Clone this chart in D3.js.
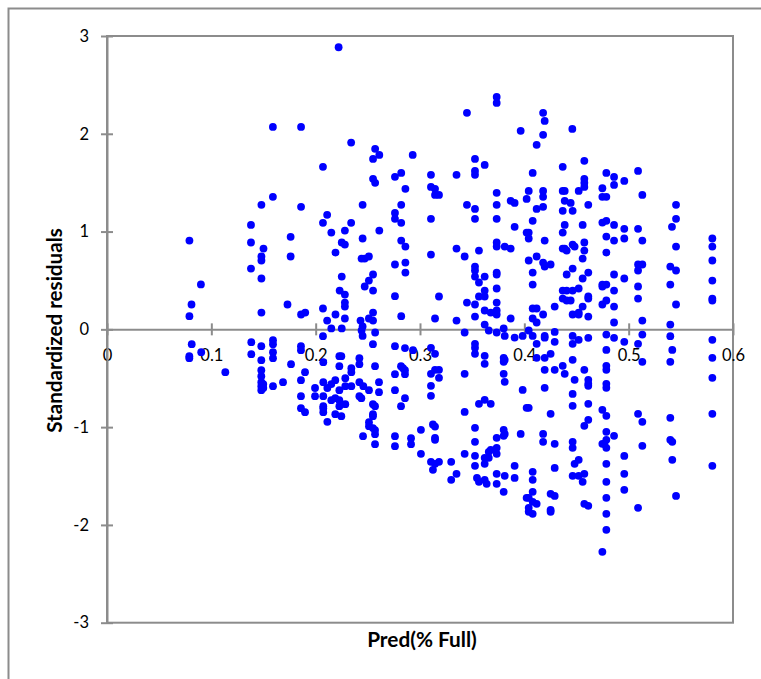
<!DOCTYPE html>
<html>
<head>
<meta charset="utf-8">
<script src="https://cdn.jsdelivr.net/npm/d3@7"></script>
<style>
  html, body { margin: 0; padding: 0; background: #fff; }
  svg { display: block; }
  text { font-family: Lato, "Open Sans", sans-serif; fill: #000; }
</style>
</head>
<body>
<div id="chart"></div>
<script>
// Pred(% Full) and standardized residual of each point, line for line
const predFull = [
  .222,.159,.186,.234,.257,.261,.255,.293,.207,.282,
  .276,.255,.257,.286,.159,.148,.186,.245,.282,.276,
  .276,.211,.207,.234,.282,.138,.215,.228,.261,.176,
  .079,.138,.245,.282,.286,.225,.228,.150,.219,.148,
  .148,.176,.244,.247,.251,.138,.276,.286,.286,.148,
  .225,.255,.251,.247,.090,.223,.228,.255,.276,.228,
  .228,.081,.173,.207,.148,.186,.190,.219,.079,.228,
  .255,.282,.211,.243,.251,.255,.215,.225,.245,.244,
  .257,.245,.207,
  .3735,.3735,.345,.418,.4195,.446,.3965,.418,.4118,.3527,
  .362,.4575,.4368,.3527,.3527,.3105,.335,.408,.4786,.509,
  .486,.4958,.4575,.4575,.4575,.486,.3105,.3144,.3144,.3182,
  .4748,.4042,.418,.418,.4368,.4387,.4521,.3735,.5131,.4748,
  .4786,.4022,.3869,.3907,.4387,.4444,.345,.3735,.4613,.5454,
  .3527,.4118,.418,.4368,.4463,.3105,.3527,.3735,.408,.5454,
  .4748,.4786,.4387,.4559,.486,.3907,.5415,.4958,.509,.4022,
  .4042,.4368,.4042,.4786,.5802,.4958,.4195,.486,.5131,.3735,
  .4575,.4463,.4482,.3735,.3812,.3869,.335,.5802,.5454,.4368,
  .4387,.4406,.3565,.4575,.4786,.3105,.3428,.4118,.4559,.4042,
  .418,.5802,.4252,.4195,.3527,.509,.5131,.509,.5399,.5454,
  .3527,.4463,.3527,.3735,.3735,.408,.4613,.362,.4406,.486,
  .3565,.4559,.4958,.5802,.408,.4748,.4786,.4748,.509,.5399,
  .3735,.362,.4368,.4406,.4463,.4521,.486,.3182,.3565,.362,
  .4613,.4613,.4368,.4406,.4444,.509,.5802,.5802,.345,.3527,
  .3735,.4786,.4748,.4291,.4559,.486,.5454,.408,.4118,.362,
  .3678,.3735,.3735,.4463,.4521,.4521,.418,.3527,.3144,.3869,
  .408,.4118,.4613,.335,.5131,.486,.5399,.362,.3802,.3659,
  .4042,.3735,.3428,.4291,.3812,.3907,.3984,.408,.4195,.4195,
  .4463,.4786,.4613,.5131,.5399,.486,
  .4521,.5802,.4118,.4291,.4463,.4958,.509,.3105,.3144,.3527,
  .3527,.3527,.362,.362,.4786,.5418,.5131,.5399,.5802,.4252,
  .4195,.4118,.3802,.3802,.3812,.4463,.4786,.4786,.4195,.4291,
  .4368,.4387,.4575,.3144,.3182,.3105,.3182,.3428,.3802,.3812,
  .4482,.4613,.4613,.4613,.4786,.4786,.5802,.3105,.3105,.3984,
  .4195,.4463,.362,.3565,.3678,.4463,.4613,.4022,.4042,.3428,
  .4252,.4748,.4786,.509,.5131,.5399,.5802,.4613,.4575,.3124,
  .3144,.3009,.3527,.3802,.3812,.3802,.3735,.3965,.418,.4786,
  .486,.3144,.3144,.3527,.418,.4291,.4463,.4463,.4786,.4748,
  .4767,.4786,.5131,.5399,.5418,.3735,.3678,.3659,.3735,.3428,
  .3009,.3527,.362,.3659,.4958,.3105,.3144,.3182,.3299,.5418,
  .4521,.4482,.362,.3527,.3907,.4291,.4786,.5802,.3124,.408,
  .335,.3735,.3812,.4958,.4463,.4521,.4575,.3546,.362,.3565,
  .3639,.3299,.3907,.408,.3735,.4559,.4786,.3802,.4958,.408,
  .4252,.4291,.5454,.4022,.4042,.408,.4118,.4786,.4575,.4613,
  .4042,.4042,.408,.4252,.4252,.509,.4786,.4786,.4748,
  .0812,.0903,.0789,.0789,.1134,.1383,.1383,.1479,.1479,.1479,
  .1479,.1479,.1498,.1479,.1498,.1479,.1591,.1591,.1591,.1591,
  .1591,.1687,.1764,.1859,.1859,.1898,.1859,.1859,.1859,.1898,
  .1994,.1994,.2073,.2073,.2073,.2073,.2073,.2073,.2112,.2112,
  .215,.215,.2188,.2188,.2227,.2227,.2188,.2246,.2227,.2227,
  .2227,.2246,.2284,.2284,.2284,.2342,.2342,.2342,.2419,.2419,
  .2419,.2457,.2511,.2419,.2438,.2607,.2607,.2569,.2549,.2549,
  .2569,.2549,.2549,.2511,.2511,.2549,.2569,.2569,.2454,.2569,
  .276,.2856,.2933,.2818,.2837,.2856,.2856,.276,.276,.2856,
  .2818,.276,.276,.2914,.2914
];

const stdResiduals = [
  2.885,2.07,2.07,1.91,1.846,1.784,1.743,1.784,1.662,1.60,
  1.56,1.539,1.498,1.437,1.355,1.273,1.253,1.273,1.273,1.191,
  1.13,1.171,1.089,1.089,1.089,1.068,.99,1.01,1.01,.946,
  .908,.888,.929,.908,.847,.888,.867,.826,.785,.745,
  .704,.745,.724,.724,.745,.622,.663,.683,.581,.52,
  .54,.561,.499,.438,.459,.397,.356,.397,.339,.274,
  .233,.254,.254,.213,.172,.152,.172,.152,.135,.111,
  .172,.135,.09,.09,.111,.09,.009,.009,.029,-.012,
  -.032,-.067,-.07,
  2.377,2.316,2.214,2.214,2.132,2.05,2.03,1.989,1.887,1.743,
  1.682,1.723,1.662,1.62,1.58,1.58,1.58,1.6,1.6,1.62,
  1.559,1.518,1.539,1.498,1.457,1.477,1.457,1.437,1.375,1.375,
  1.443,1.416,1.416,1.355,1.416,1.416,1.416,1.396,1.375,1.355,
  1.355,1.334,1.314,1.293,1.314,1.293,1.273,1.273,1.273,1.273,
  1.232,1.232,1.253,1.212,1.212,1.13,1.13,1.13,1.11,1.13,
  1.092,1.11,1.068,1.068,1.068,1.048,1.048,1.028,1.028,.99,
  .99,.99,.929,.949,.929,.929,.908,.908,.908,.888,
  .888,.867,.847,.847,.847,.826,.826,.847,.847,.826,
  .826,.806,.806,.806,.785,.765,.745,.745,.724,.704,
  .683,.704,.663,.642,.642,.663,.663,.602,.642,.602,
  .602,.622,.54,.581,.561,.581,.581,.54,.561,.561,
  .479,.52,.52,.499,.458,.458,.458,.438,.438,.458,
  .418,.397,.397,.397,.397,.418,.397,.336,.336,.336,
  .336,.315,.315,.295,.295,.315,.315,.295,.274,.254,
  .274,.295,.254,.233,.233,.233,.254,.213,.213,.193,
  .172,.193,.152,.152,.172,.152,.152,.131,.111,.111,
  .111,.07,.131,.09,.09,.07,.049,.049,.009,-.012,
  -.012,-.032,-.032,-.026,-.067,-.084,-.067,-.067,-.067,-.085,
  -.067,-.053,-.087,-.053,-.07,-.087,
  -.107,-.107,-.148,-.128,-.148,-.128,-.148,-.189,-.25,-.148,
  -.189,-.25,-.271,-.353,-.21,-.21,-.332,-.332,-.291,-.25,
  -.291,-.291,-.291,-.332,-.312,-.312,-.373,-.414,-.414,-.414,
  -.373,-.455,-.414,-.414,-.414,-.455,-.496,-.455,-.455,-.537,
  -.516,-.516,-.557,-.578,-.557,-.598,-.496,-.578,-.68,-.619,
  -.598,-.66,-.721,-.762,-.762,-.782,-.762,-.803,-.803,-.844,
  -.864,-.823,-.884,-.864,-.946,-.905,-.864,-.925,-.987,-.973,
  -.994,-1.028,-1.007,-1.028,-1.069,-1.089,-1.109,-1.069,-1.069,-1.048,
  -1.089,-1.109,-1.13,-1.15,-1.15,-1.171,-1.15,-1.212,-1.13,-1.171,
  -1.171,-1.212,-1.191,-1.13,-1.15,-1.212,-1.232,-1.253,-1.273,-1.273,
  -1.273,-1.293,-1.314,-1.314,-1.294,-1.355,-1.375,-1.355,-1.355,-1.334,
  -1.334,-1.375,-1.375,-1.396,-1.396,-1.417,-1.375,-1.396,-1.437,-1.457,
  -1.478,-1.478,-1.498,-1.478,-1.498,-1.498,-1.478,-1.519,-1.539,-1.559,
  -1.58,-1.539,-1.519,-1.539,-1.58,-1.559,-1.559,-1.662,-1.641,-1.662,
  -1.682,-1.703,-1.703,-1.723,-1.723,-1.764,-1.784,-1.723,-1.784,-1.805,
  -1.825,-1.866,-1.887,-1.846,-1.866,-1.825,-1.887,-2.05,-2.275,
  -.152,-.233,-.274,-.295,-.438,-.131,-.254,-.172,-.315,-.418,
  -.479,-.54,-.56,-.581,-.6,-.622,-.111,-.152,-.233,-.295,
  -.581,-.54,-.356,-.172,-.213,-.438,-.52,-.683,-.806,-.847,
  -.6,-.683,-.336,-.54,-.683,-.786,-.806,-.847,-.6,-.946,
  -.56,-.724,-.52,-.704,-.724,-.786,-.867,-.888,-.622,-.377,
  -.274,-.274,-.499,-.581,-.765,-.397,-.438,-.581,-.295,-.356,
  -.54,-.581,-.622,-.683,-.704,-.54,-.642,-.377,-.152,-.765,
  -.786,-.867,-.888,-.949,-.99,-1.01,-1.03,-1.072,-1.092,-1.174,
  -.172,-.192,-.213,-.377,-.397,-.418,-.458,-.458,-.622,-.704,
  -.786,-1.092,-1.195,-1.113,-1.174
];

const xTickValues = [0, 0.1, 0.2, 0.3, 0.4, 0.5, 0.6];
const yTickValues = [-3, -2, -1, 0, 1, 2, 3];

const WIDTH = 761;
const HEIGHT = 679;
const plot = { left: 107, right: 733, top: 36, bottom: 622.7 };
const AXIS_COLOR = "#8c8c8c";

const svg = d3.select("#chart").append("svg")
  .attr("width", WIDTH)
  .attr("height", HEIGHT);

// outer chart frame, runs off the picture on the right and at the bottom
svg.append("path")
  .attr("d", `M8.5,${HEIGHT} V8.5 H${WIDTH}`)
  .attr("fill", "none")
  .attr("stroke", AXIS_COLOR)
  .attr("stroke-width", 2);

const x = d3.scaleLinear().domain([0, 0.6]).range([plot.left, plot.right]);
const y = d3.scaleLinear().domain([-3, 3]).range([plot.bottom, plot.top]);

// plot area border
svg.append("rect")
  .attr("x", plot.left)
  .attr("y", plot.top)
  .attr("width", plot.right - plot.left)
  .attr("height", plot.bottom - plot.top)
  .attr("fill", "none")
  .attr("stroke", AXIS_COLOR)
  .attr("stroke-width", 2);

// x axis sits on y = 0, labels well below the line as in the original
const xAxis = svg.append("g")
  .attr("transform", `translate(0,${y(0)})`)
  .call(d3.axisBottom(x).tickValues(xTickValues).tickFormat(String).tickSize(0));
xAxis.selectAll(".tick line").attr("y1", -6).attr("y2", 6);
xAxis.selectAll(".tick text").attr("y", 20).style("font-size", "16.5px");

const yAxis = svg.append("g")
  .attr("transform", `translate(${plot.left},0)`)
  .call(d3.axisLeft(y).tickValues(yTickValues).tickFormat(String).tickSize(0));
yAxis.selectAll(".tick line").attr("x1", -6).attr("x2", 6);
yAxis.selectAll(".tick text").attr("x", -18).style("font-size", "16.5px");

svg.selectAll(".domain, .tick line")
  .attr("stroke", AXIS_COLOR)
  .attr("stroke-width", 2);
svg.selectAll(".tick text").attr("fill", "#000");

svg.append("g")
  .selectAll("circle")
  .data(predFull.map((p, i) => [p, stdResiduals[i]]))
  .enter()
  .append("circle")
  .attr("cx", d => x(d[0]))
  .attr("cy", d => y(d[1]))
  .attr("r", 3.9)
  .attr("fill", "#0000ff");

svg.append("text")
  .attr("x", 422)
  .attr("y", 647)
  .attr("text-anchor", "middle")
  .style("font-size", "20.8px")
  .style("font-weight", "700")
  .text("Pred(% Full)");

svg.append("text")
  .attr("transform", "translate(62,330.5) rotate(-90)")
  .attr("text-anchor", "middle")
  .style("font-size", "20.6px")
  .style("font-weight", "700")
  .text("Standardized residuals");
</script>
</body>
</html>
